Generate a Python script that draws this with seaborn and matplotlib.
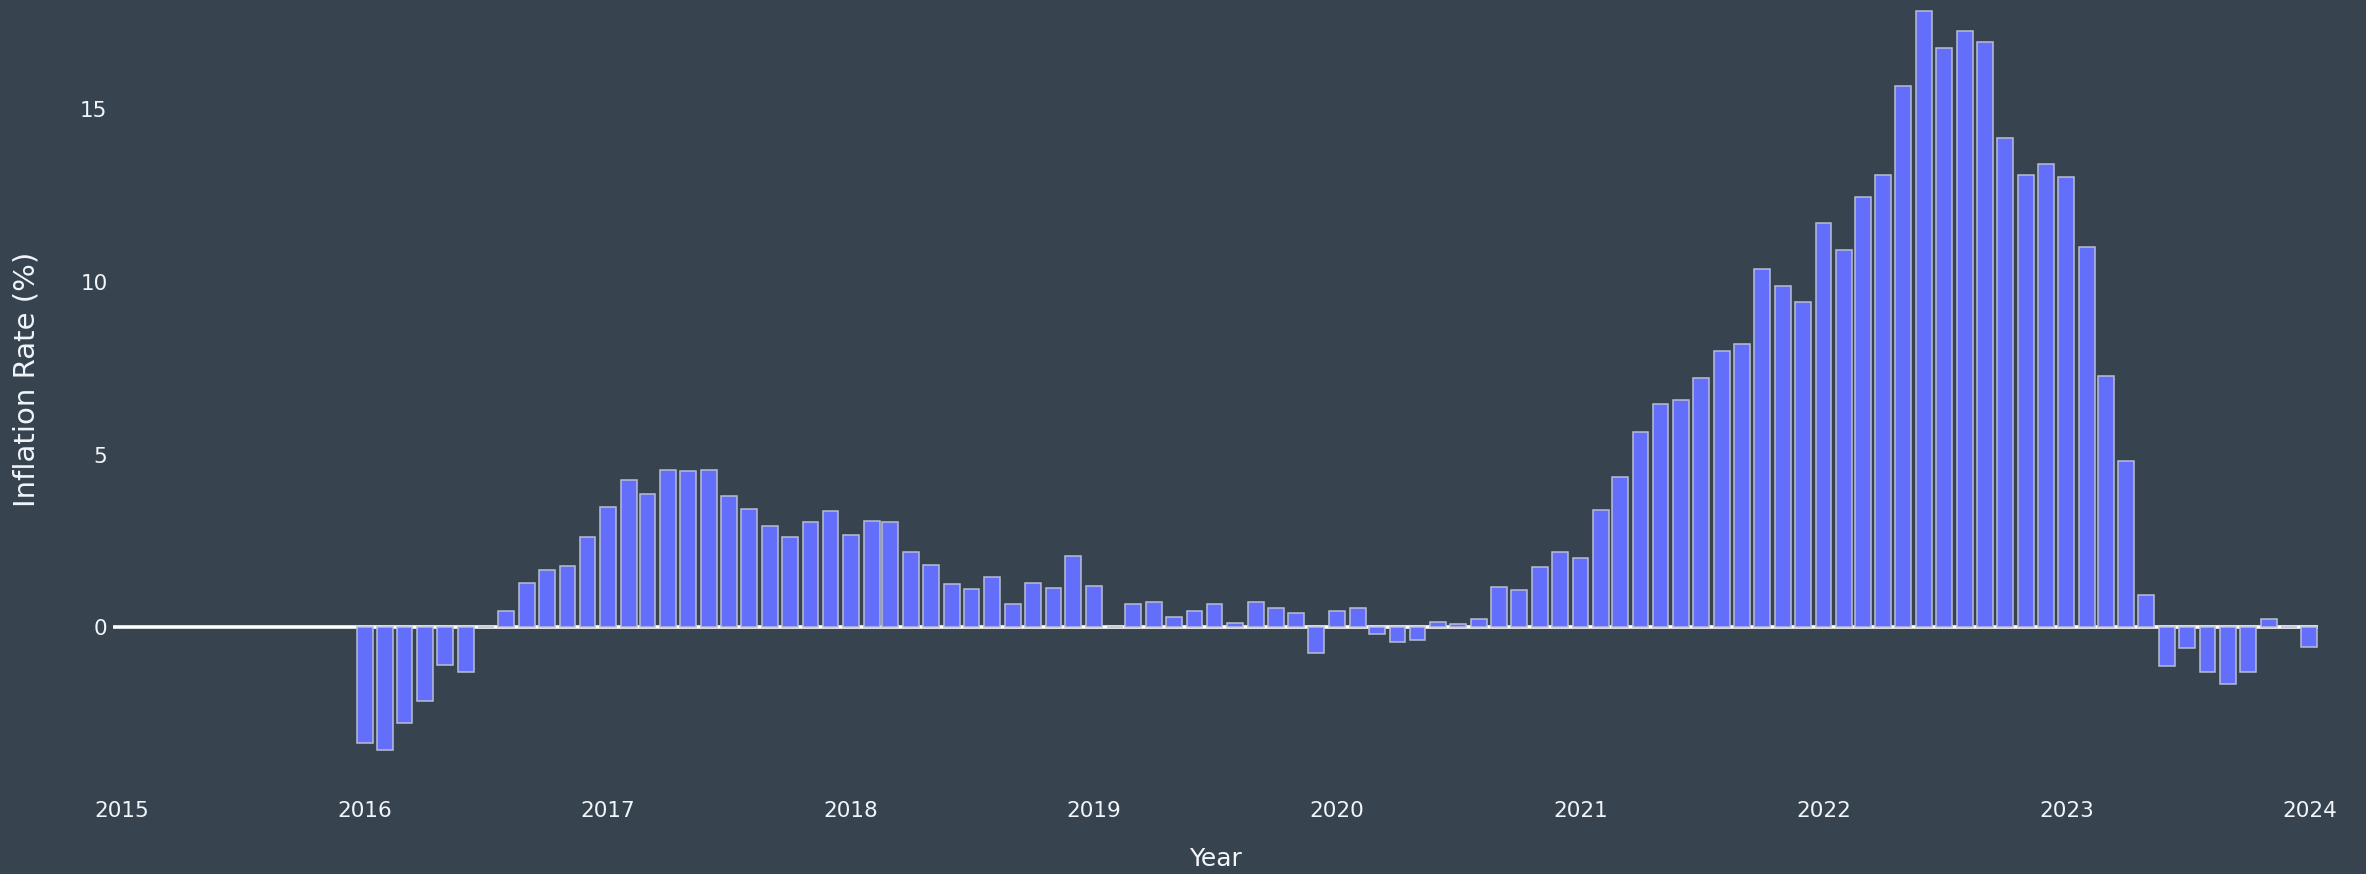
import pandas as pd
import numpy as np
import matplotlib
matplotlib.use("Agg")
import matplotlib.pyplot as plt
import matplotlib.dates as mdates
import seaborn as sns

months = pd.date_range("2016-01-01", "2024-01-01", freq="MS")
rate_2016 = [-3.35, -3.56, -2.78, -2.14, -1.09, -1.29, 0.0, 0.46, 1.29, 1.66, 1.76, 2.62]
rate_2017 = [3.49, 4.25, 3.87, 4.54, 4.53, 4.56, 3.80, 3.42, 2.92, 2.61, 3.04, 3.37]
rate_2018 = [2.68, 3.08, 3.05, 2.17, 1.81, 1.24, 1.10, 1.45, 0.68, 1.29, 1.13, 2.06]
rate_2019 = [1.18, 0.0, 0.68, 0.73, 0.29, 0.47, 0.68, 0.11, 0.73, 0.54, 0.42, -0.74]
rate_2020 = [0.47, 0.54, -0.19, -0.42, -0.37, 0.16, 0.10, 0.24, 1.16, 1.08, 1.73, 2.18]
rate_2021 = [1.99, 3.38, 4.36, 5.65, 6.45, 6.59, 7.22, 8.00, 8.19, 10.39, 9.87, 9.42]
rate_2022 = [11.71, 10.92, 12.46, 13.09, 15.67, 17.85, 16.79, 17.27, 16.96, 14.17, 13.09, 13.41]
rate_2023 = [13.04, 11.02, 7.27, 4.81, 0.94, -1.13, -0.61, -1.31, -1.66, -1.31, 0.24, 0.0]
rate_2024 = [-0.58]

rates = (rate_2016 + rate_2017 + rate_2018 + rate_2019 + rate_2020
         + rate_2021 + rate_2022 + rate_2023 + rate_2024)
data = pd.DataFrame({"Date": mdates.date2num(months), "Rate": rates})

bg = "#37444f"
fg = "#f2f5fa"
sns.set_style("dark", {"axes.facecolor": bg, "figure.facecolor": bg})
plt.rcParams["font.family"] = ["DejaVu Sans"]

fig = plt.figure(figsize=(23.66, 8.74), dpi=100)
ax = fig.add_axes([113 / 2366, 84 / 874, (2318 - 113) / 2366, 790 / 874])

sns.barplot(data=data, x="Date", y="Rate", native_scale=True, width=0.85,
            color="#636efa", saturation=1, errorbar=None,
            edgecolor="#b8bdd6", linewidth=1.1, ax=ax)
ax.axhline(0, color="white", lw=2.6, zorder=0.5)

ax.set_xlim(mdates.date2num(pd.Timestamp("2014-12-19")),
            mdates.date2num(pd.Timestamp("2024-01-14")))
ax.set_ylim(-4.72, 18.17)
ax.xaxis.set_major_locator(mdates.YearLocator())
ax.xaxis.set_major_formatter(mdates.DateFormatter("%Y"))
ax.set_yticks([0, 5, 10, 15])

for s in ax.spines.values():
    s.set_visible(False)
ax.grid(False)
ax.tick_params(axis="both", length=0, colors=fg, labelsize=15.5)
ax.tick_params(axis="x", pad=8)
ax.tick_params(axis="y", pad=4)
ax.set_xlabel("Year", color=fg, fontsize=18, labelpad=19)
ax.set_ylabel("Inflation Rate (%)", color=fg, fontsize=21)
ax.yaxis.set_label_coords(-0.033, 0.52)

fig.savefig("out.png", dpi=100, facecolor=bg)
